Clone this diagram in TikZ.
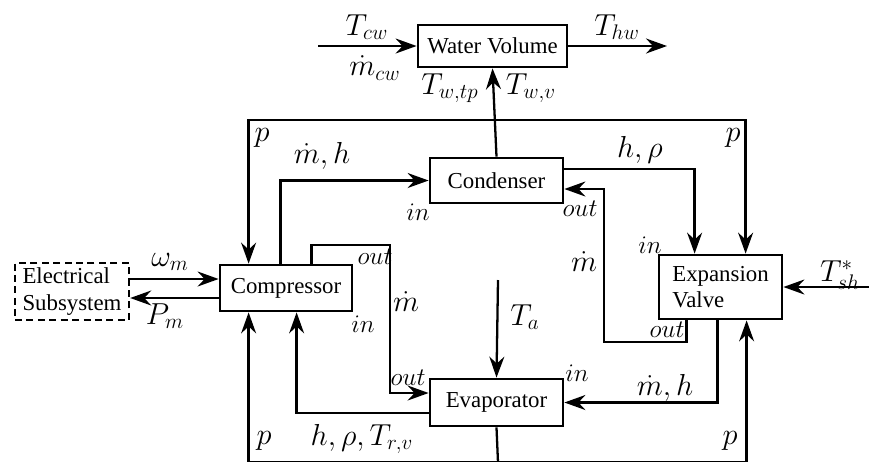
\documentclass[tikz,border=0pt]{standalone}
\usepackage{fontspec}
\setmainfont{Liberation Serif}
\usetikzlibrary{arrows.meta,calc,positioning}

\begin{document}
\begin{tikzpicture}[
          x=0.02cm,y=-0.02cm,
          >={Stealth[length=4.2mm,width=3mm,inset=1.4mm]},
          block/.style={draw,line width=1.6pt,inner sep=0pt,font=\fontsize{13}{15}\selectfont},
          dblock/.style={block,dashed,line width=1.4pt,dash pattern=on 4pt off 2.5pt},
          sig/.style={->,line width=1.3pt},
          wire/.style={line width=1.3pt},
          lbl/.style={font=\fontsize{17}{20}\selectfont,inner sep=0pt},
          port/.style={font=\fontsize{14}{16}\selectfont,inner sep=0pt}
        ]
        \path[use as bounding box] (0,0) rectangle (869,461);
        \node[block,minimum width=2.98cm,minimum height=0.84cm] (water) at (492.5,46) {Water Volume};
        \node[block,minimum width=2.66cm,minimum height=0.90cm] (cond) at (496.5,180.5) {Condenser};
        \node[block,minimum width=2.64cm,minimum height=0.92cm] (comp) at (286,288) {Compressor};
        \node[dblock,minimum width=2.28cm,minimum height=1.14cm,align=left] (elec) at (72,291.5) {Electrical\\Subsystem};
        \node[block,minimum width=2.66cm,minimum height=0.94cm] (evap) at (496.5,402.5) {Evaporator};
        \node[block,minimum width=2.46cm,minimum height=1.28cm,align=left] (valve) at (720.5,287) {Expansion\\Valve};

        \coordinate (tcw) at (318,46);
        \coordinate (thw) at (667,46);
        \coordinate (ptop) at (497,120);
        \coordinate (pbot) at (498,462.5);
        \coordinate (ta) at (498,280);
        \coordinate (tsh) at (869,287);

        % water side
        \draw[sig] (tcw) -- (water.west);
        \draw[sig] (water.east) -- (thw);
        \draw[sig] (cond.north) -- (water.south);
        \node[lbl] at (367,27) {$T_{cw}$};
        \node[lbl] at (375,68) {$\dot{m}_{cw}$};
        \node[lbl] at (617,27) {$T_{hw}$};
        \node[lbl] at (450,88) {$T_{w,tp}$};
        \node[lbl] at (531,88) {$T_{w,v}$};

        % pressure feedback
        \draw[sig] (ptop) -| ($(comp.north west)+(30,0)$);
        \draw[sig] (ptop) -| ($(valve.north west)+(88,0)$);
        \draw[wire] (evap.south) -- (pbot);
        \draw[sig] (pbot) -| ($(comp.south west)+(30,0)$);
        \draw[sig] (pbot) -| ($(valve.south west)+(89,0)$);
        \node[lbl] at (262,138) {$p$};
        \node[lbl] at (733,138) {$p$};
        \node[lbl] at (264,441) {$p$};
        \node[lbl] at (730,441) {$p$};

        % compressor
        \draw[sig] (elec.east |- 0,279) -- (comp.west |- 0,279);
        \draw[sig] (comp.west |- 0,298) -- (elec.east |- 0,298);
        \node[lbl] at (170,262) {$\omega_m$};
        \node[lbl] at (165,316) {$P_m$};
        \draw[sig] ($(comp.north west)+(62,0)$) |- (cond.west);
        \node[lbl] at (322,156) {$\dot{m},h$};
        \draw[sig] ($(comp.north west)+(93,0)$) |- (390,245) |- ($(evap.west)+(0,-9.5)$);
        \node[lbl] at (406,302) {$\dot{m}$};
        \node[port] at (375,257) {$out$};
        \node[port] at (408,378) {$out$};
        \draw[sig] ($(evap.west)+(0,10.5)$) -| ($(comp.south west)+(78,0)$);
        \node[lbl] at (362,439) {$h,\rho,T_{r,v}$};
        \node[port] at (363,324) {$in$};
        \node[port] at (418,212) {$in$};

        % expansion valve
        \draw[sig] ($(cond.east)+(0,-11.5)$) -| ($(valve.north west)+(37,0)$);
        \node[lbl] at (640,150) {$h,\rho$};
        \draw[sig] ($(valve.south west)+(29,0)$) |- (604,342) |- ($(cond.east)+(0,8.5)$);
        \node[lbl] at (584,262) {$\dot{m}$};
        \node[port] at (580,209) {$out$};
        \node[port] at (667,330) {$out$};
        \node[port] at (650,245) {$in$};
        \draw[sig] ($(valve.south west)+(60,0)$) |- (evap.east);
        \node[lbl] at (665,388) {$\dot{m},h$};
        \node[port] at (577,373) {$in$};
        \draw[sig] (tsh) -- (valve.east);
        \node[lbl] at (840,275) {$T_{sh}^{*}$};

        % evaporator
        \draw[sig] (ta) -- (evap.north);
        \node[lbl] at (525,317) {$T_a$};

      \end{tikzpicture}
\end{document}
